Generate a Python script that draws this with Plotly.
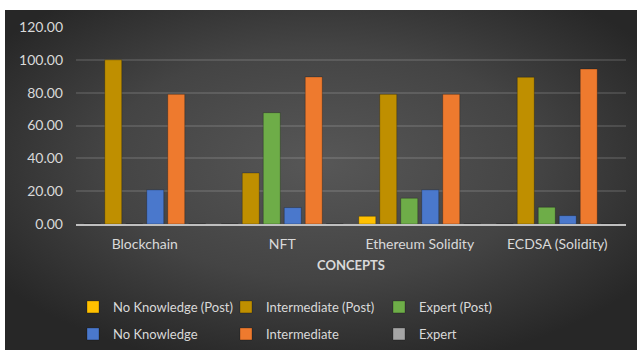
import base64
import plotly.graph_objects as go

categories = ["Blockchain", "NFT", "Ethereum Solidity", "ECDSA (Solidity)"]
series_names = ["No Knowledge (Post)", "Intermediate (Post)", "Expert (Post)",
                "No Knowledge", "Intermediate", "Expert"]
nk_post = [0, 0, 4.7, 0]
int_post = [100, 31.1, 79, 89.4]
exp_post = [0, 67.8, 15.7, 10.2]
nk_pre = [20.8, 10, 20.8, 5.1]
int_pre = [79, 89.6, 79, 94.4]
exp_pre = [0, 0, 0, 0]
y_ticks = [0, 20, 40, 60, 80, 100, 120]

series_values = [nk_post, int_post, exp_post, nk_pre, int_pre, exp_pre]
colors = ["#FFC000", "#BF8F00", "#6EAD48", "#4A78CC", "#EE7A2E", "#A5A5A5"]
legends = ["legend", "legend", "legend", "legend2", "legend2", "legend2"]

FONT = "Lato"
TXT = "#D9D9D9"

fig = go.Figure()
for name, vals, col, lg in zip(series_names, series_values, colors, legends):
    fig.add_trace(go.Bar(
        x=categories, y=vals, name=name, legend=lg,
        marker=dict(color=col, line=dict(color="rgba(0,0,0,0.25)", width=1)),
    ))

# plot area pixel geometry
L, R, T, B = 76, 626, 27, 224
W, H = 640, 350
pw, ph = R - L, B - T

def px_x(px):
    return (px - L) / pw

def px_y(py):
    return (B - py) / ph

svg = (
    '<svg xmlns="http://www.w3.org/2000/svg" width="632" height="340" preserveAspectRatio="none">'
    '<defs><radialGradient id="g" cx="0.5" cy="0.45" r="0.62">'
    '<stop offset="0" stop-color="#575757"/>'
    '<stop offset="0.55" stop-color="#444444"/>'
    '<stop offset="1" stop-color="#272727"/>'
    '</radialGradient></defs>'
    '<rect width="632" height="340" fill="url(#g)"/></svg>'
)
src = "data:image/svg+xml;base64," + base64.b64encode(svg.encode()).decode()

legend_common = dict(
    orientation="h", xanchor="left", yanchor="middle",
    xref="container", yref="container",
    bgcolor="rgba(0,0,0,0)", font=dict(family=FONT, size=13, color=TXT),
    entrywidth=108, entrywidthmode="pixels", traceorder="normal",
)

fig.update_layout(
    width=W, height=H,
    margin=dict(l=L, r=W - R, t=T, b=H - B, pad=0, autoexpand=False),
    paper_bgcolor="white",
    plot_bgcolor="rgba(0,0,0,0)",
    barmode="group",
    bargap=0.084,
    bargroupgap=0.19,
    font=dict(family=FONT, color=TXT, size=14),
    images=[dict(
        source=src, xref="paper", yref="paper",
        x=px_x(5), y=px_y(10), sizex=(637 - 5) / pw, sizey=(350 - 10) / ph,
        xanchor="left", yanchor="top", sizing="stretch", layer="below",
    )],
    xaxis=dict(
        showgrid=False, showline=True, linecolor="#BFBFBF", linewidth=2,
        ticks="", tickfont=dict(family=FONT, size=14, color=TXT),
        ticklabelstandoff=6,
    ),
    yaxis=dict(
        range=[0, 120], tickvals=y_ticks, tickformat=".2f",
        showgrid=True, gridcolor="rgba(255,255,255,0.12)", gridwidth=1.5,
        zeroline=False, showline=False, ticks="",
        tickfont=dict(family=FONT, size=14, color=TXT),
        ticklabelstandoff=12,
    ),
    annotations=[dict(
        text="<b>CONCEPTS</b>", xref="paper", yref="paper",
        x=px_x(351), y=px_y(265), xanchor="center", yanchor="middle",
        showarrow=False, font=dict(family=FONT, size=13, color=TXT),
    )],
    legend=dict(legend_common, x=73 / W, y=(H - 307) / H),
    legend2=dict(legend_common, x=73 / W, y=(H - 334) / H),
)

fig.write_html("out.html")
